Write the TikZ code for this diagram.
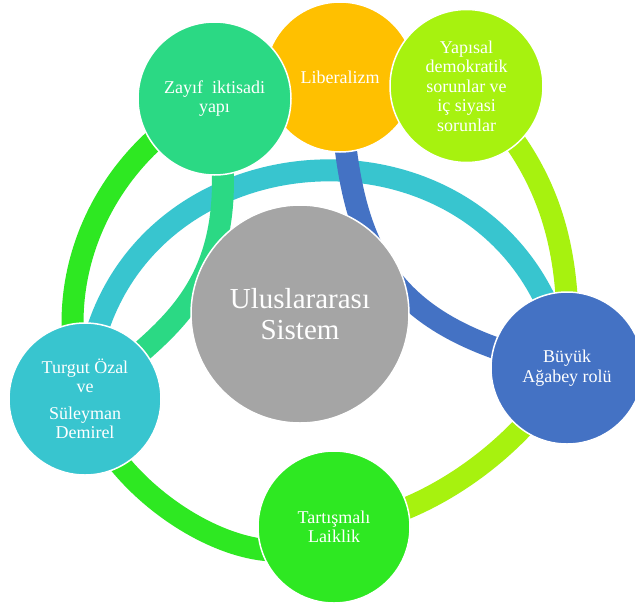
\documentclass[tikz,border=0pt]{standalone}
\usepackage{fontspec}
\setmainfont{Liberation Serif}
\usetikzlibrary{backgrounds}
\definecolor{zayifgreen}{RGB}{43,217,132}
\definecolor{libgold}{RGB}{255,192,0}
\definecolor{yapilime}{RGB}{167,242,15}
\definecolor{buyukblue}{RGB}{68,114,196}
\definecolor{laikgreen}{RGB}{46,232,34}
\definecolor{ozalcyan}{RGB}{56,197,207}
\definecolor{sysgray}{RGB}{165,165,165}
\begin{document}
\begin{tikzpicture}[x=1pt, y=-1pt,
        bubble/.style={circle, draw=white, line width=1.5pt, text=white, minimum size=152pt,
            inner sep=0pt, align=center, font=\fontsize{18}{19.5}\selectfont},
        band/.style={line width=22pt}]
            \useasboundingbox (0,0) rectangle (635,606);

            \node[bubble, fill=sysgray, minimum size=218pt, font=\fontsize{29}{31}\selectfont] (sistem) at (300,314) {Uluslararası\\Sistem};
            \node[bubble, fill=libgold, minimum size=150pt] (liberal) at (340,77) {Liberalizm};
            \node[bubble, fill=zayifgreen, minimum size=153pt] (zayif) at (214.5,98.5) {Zayıf\ \ iktisadi\\yapı};
            \node[bubble, fill=yapilime, minimum size=153pt] (yapisal) at (466.5,86) {Yapısal\\demokratik\\sorunlar ve\\iç siyasi\\sorunlar};
            \node[bubble, fill=ozalcyan] (ozal) at (85,399) {Turgut Özal\\ve\\[7pt]Süleyman\\Demirel};
            \node[bubble, fill=buyukblue] (buyuk) at (567,368) {Büyük\\Ağabey rolü};
            \node[bubble, fill=laikgreen] (laiklik) at (334,527) {Tartışmalı\\Laiklik};

            \begin{pgfonlayer}{background}
            \fill[white] (0,0) rectangle (635,606);
            \draw[band, laikgreen] (ozal.center) .. controls +(-40,-120) and +(-110,55) .. (zayif.center);
            \draw[band, laikgreen] (ozal.center) .. controls +(25,100) and +(-60,70) .. (laiklik.center);
            \draw[band, yapilime] (yapisal.center) .. controls +(90,85) and +(5,-110) .. (buyuk.center);
            \draw[band, yapilime] (buyuk.center) .. controls +(-45,80) and +(90,-8) .. (laiklik.center);
            \draw[band, ozalcyan] (ozal.center) .. controls +(14,-286) and +(-51,-281) .. (buyuk.center);
            \draw[band, zayifgreen] (zayif.center) .. controls +(35,190) and +(85,-74) .. (ozal.center);
            \draw[band, buyukblue] (liberal.center) .. controls +(8,175) and +(-185,-40) .. (buyuk.center);
            \end{pgfonlayer}
        \end{tikzpicture}
\end{document}
